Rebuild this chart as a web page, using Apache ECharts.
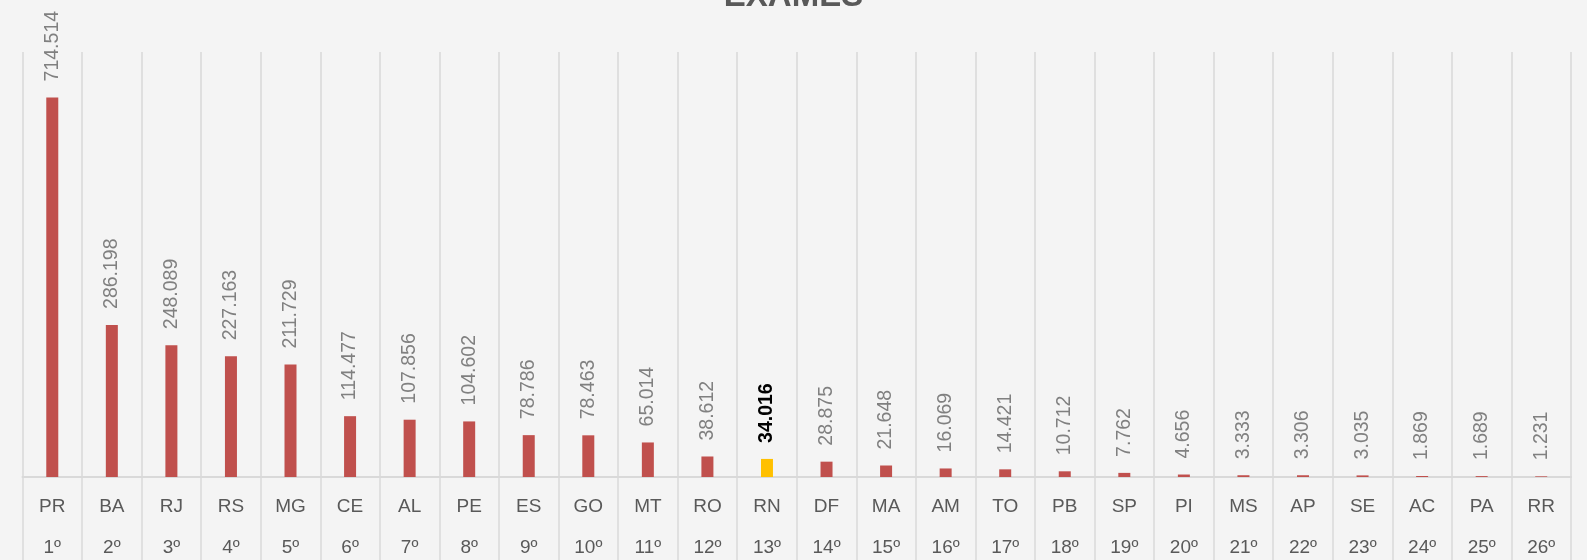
<!DOCTYPE html>
<html>
<head>
<meta charset="utf-8">
<script src="https://cdn.jsdelivr.net/npm/echarts@6/dist/echarts.min.js"></script>
<style>
  html, body { margin: 0; padding: 0; background: #f4f4f4; }
  #chart-container { width: 1587px; height: 560px; }
</style>
</head>
<body>
<div id="chart-container"></div>
<script>
var states = ["PR", "BA", "RJ", "RS", "MG", "CE", "AL", "PE", "ES", "GO", "MT", "RO", "RN",
  "DF", "MA", "AM", "TO", "PB", "SP", "PI", "MS", "AP", "SE", "AC", "PA", "RR"];
var ranks = ["1º", "2º", "3º", "4º", "5º", "6º", "7º", "8º", "9º", "10º", "11º", "12º", "13º",
  "14º", "15º", "16º", "17º", "18º", "19º", "20º", "21º", "22º", "23º", "24º", "25º", "26º"];
var exames = [714514, 286198, 248089, 227163, 211729, 114477, 107856, 104602, 78786, 78463,
  65014, 38612, 34016, 28875, 21648, 16069, 14421, 10712, 7762, 4656, 3333, 3306, 3035,
  1869, 1689, 1231];
var highlight = "RN";

var dom = document.getElementById("chart-container");
var myChart = echarts.init(dom, null, { renderer: "canvas" });

// 714514 -> "714.514"
function fmt(v) {
  return String(v).replace(/\B(?=(\d{3})+(?!\d))/g, ".");
}

var categories = states.map(function (s, i) {
  return s + "\n" + ranks[i];
});

var barData = exames.map(function (v, i) {
  var item = { value: v };
  if (states[i] === highlight) {
    item.itemStyle = { color: "#ffc000" };
    item.label = { color: "#000000", fontWeight: "bold" };
  }
  return item;
});

var option = {
  backgroundColor: "#f4f4f4",
  animation: false,
  title: {
    text: "EXAMES",
    left: "center",
    top: -25,
    textStyle: {
      fontFamily: "Liberation Sans",
      fontSize: 33,
      fontWeight: "bold",
      color: "#595959",
    },
  },
  grid: {
    left: 22.5,
    right: 16,
    top: 52,
    bottom: 83,
    containLabel: false,
    outerBoundsMode: "none",
  },
  xAxis: {
    type: "category",
    data: categories,
    boundaryGap: true,
    axisLine: { show: true, lineStyle: { color: "#d9d9d9", width: 2 } },
    axisTick: { show: true, length: 90, lineStyle: { color: "#d9d9d9", width: 1.5 } },
    splitLine: { show: true, lineStyle: { color: "#d9d9d9", width: 1.5 } },
    axisLabel: {
      interval: 0,
      margin: 9,
      lineHeight: 41,
      fontFamily: "Liberation Sans",
      fontSize: 19,
      color: "#595959",
    },
  },
  yAxis: {
    type: "value",
    min: 0,
    max: 800000,
    show: false,
    splitLine: { show: false },
  },
  series: [
    {
      type: "bar",
      data: barData,
      barWidth: 12,
      itemStyle: { color: "#c0504d" },
      label: {
        show: true,
        position: "top",
        rotate: 90,
        align: "left",
        verticalAlign: "middle",
        distance: 16,
        fontFamily: "Liberation Sans",
        fontSize: 19.5,
        color: "#808080",
        formatter: function (p) {
          return fmt(p.value);
        },
      },
    },
  ],
};

myChart.setOption(option);
window.addEventListener("resize", myChart.resize);
</script>
</body>
</html>
